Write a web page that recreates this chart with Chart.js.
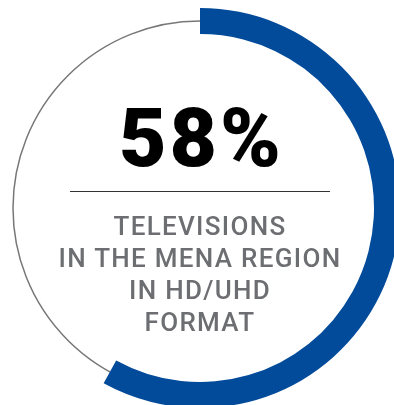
<!DOCTYPE html>
<html>
<head>
<meta charset="utf-8">
<script src="https://cdn.jsdelivr.net/npm/chart.js@4"></script>
<style>
  html, body { margin: 0; padding: 0; background: #fff; overflow: hidden; }
  body { width: 394px; height: 405px; position: relative; }
  #ringBox { position: absolute; left: 0; top: 8px; width: 400px; height: 400px; }
  .big {
    position: absolute; left: 0; width: 400px; top: 93px; text-align: center;
    font-family: Roboto, sans-serif; font-weight: 900; font-size: 82px; line-height: 90px;
    color: #000; letter-spacing: 3px; text-indent: 3px;
  }
  .rule { position: absolute; left: 70px; width: 260px; top: 191px; height: 1px; background: #333; }
  .caption {
    position: absolute; left: 0; width: 400px; top: 210px; text-align: center;
    font-family: Roboto, sans-serif; font-weight: 500; font-size: 26px; line-height: 32px;
    color: #6d6e71; letter-spacing: 1.3px;
  }
</style>
</head>
<body>
<div id="ringBox"><canvas id="ring"></canvas></div>
<div class="big" id="bigValue"></div>
<div class="rule"></div>
<div class="caption" id="caption"></div>

<script>
// ===== HD/UHD share ring =====
const shareLabels = ["HD/UHD", "Other"];
const shareValues = [58, 42];
const captionLines = ["TELEVISIONS", "IN THE MENA REGION", "IN HD/UHD", "FORMAT"];

const blue = "#024a9a";

document.getElementById("bigValue").textContent = shareValues[0] + "%";
document.getElementById("caption").innerHTML = captionLines.join("<br>");

// thin grey circle running through the middle of the ring
const guideCircle = {
    id: "guideCircle",
    beforeDatasetsDraw(chart) {
        const arc = chart.getDatasetMeta(0).data[0];
        if (!arc) return;
        const { x, y, innerRadius, outerRadius } = arc.getProps(["x", "y", "innerRadius", "outerRadius"], true);
        const c = chart.ctx;
        c.save();
        c.beginPath();
        c.arc(x, y, (innerRadius + outerRadius) / 2, 0, Math.PI * 2);
        c.strokeStyle = "#777";
        c.lineWidth = 1.5;
        c.stroke();
        c.restore();
    }
};

const ringChart = new Chart(document.getElementById("ring").getContext("2d"), {
    type: "doughnut",
    data: {
        labels: shareLabels,
        datasets: [
            {
                data: shareValues,
                backgroundColor: [blue, "rgba(0,0,0,0)"],
                borderWidth: 0
            }
        ]
    },
    options: {
        responsive: true,
        maintainAspectRatio: false,
        animation: false,
        cutout: "87%",
        rotation: 0,
        layout: { padding: 0 },
        plugins: {
            legend: { display: false },
            tooltip: { enabled: false }
        }
    },
    plugins: [guideCircle]
});
</script>
</body>
</html>
